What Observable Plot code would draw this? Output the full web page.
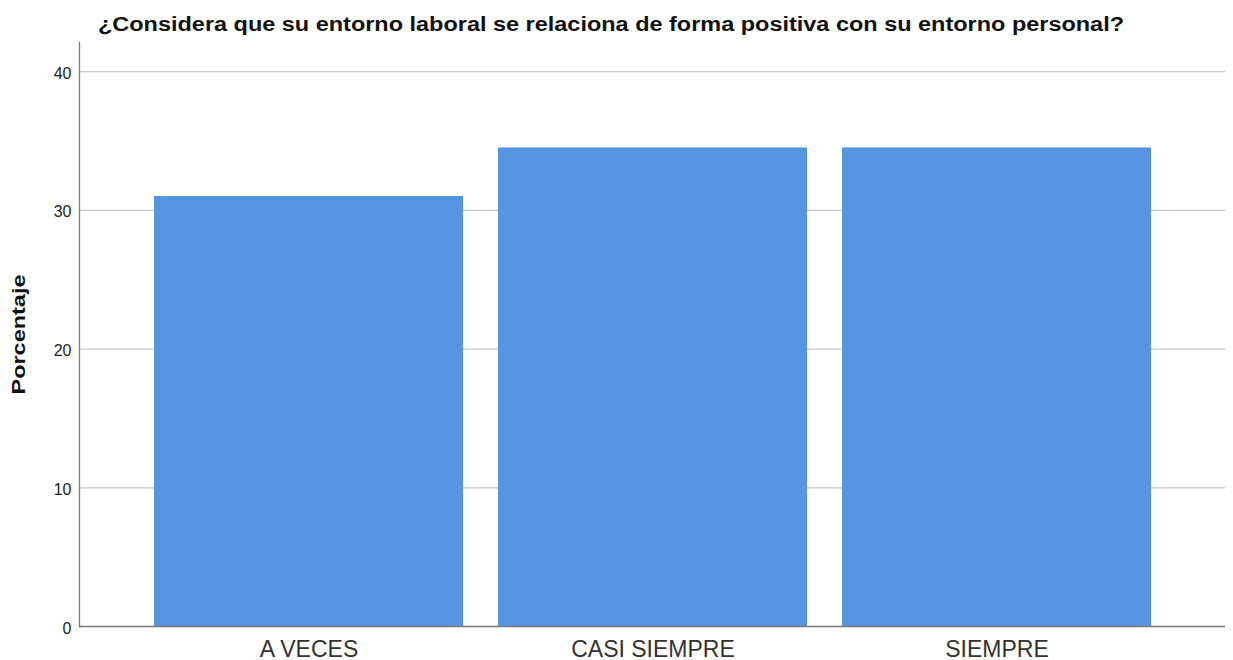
<!DOCTYPE html>
<html>
<head>
<meta charset="utf-8">
<script src="https://cdn.jsdelivr.net/npm/d3@7"></script>
<script src="https://cdn.jsdelivr.net/npm/@observablehq/plot@0.6"></script>
<style>
  body { margin: 0; background: #fff; font-family: "Liberation Sans", Arial, sans-serif; }
  svg { display: block; }
</style>
</head>
<body>
<svg id="title" width="1233" height="42" style="overflow:visible">
  <text x="98" y="31" font-family="Liberation Sans, Arial, sans-serif" font-size="20" font-weight="bold" fill="#111"
        textLength="1026" lengthAdjust="spacingAndGlyphs">¿Considera que su entorno laboral se relaciona de forma positiva con su entorno personal?</text>
</svg>
<div id="chart"></div>
<script>
const categories = ["A VECES", "CASI SIEMPRE", "SIEMPRE"];
const percentages = [31.0, 34.5, 34.5];
const yTicks = [0, 10, 20, 30, 40];
const yLabel = "Porcentaje";

const data = categories.map((c, i) => ({ cat: c, pct: percentages[i] }));

const chart = Plot.plot({
  width: 1233,
  height: 618,
  marginTop: 0,
  marginBottom: 34,
  marginLeft: 79,
  marginRight: 8,
  style: { fontFamily: "Liberation Sans, Arial, sans-serif", background: "#fff", overflow: "visible" },
  x: { domain: categories, paddingInner: 0.103, paddingOuter: 0.215, label: null },
  y: { domain: [0, 42.1], label: null },
  marks: [
    Plot.gridY(yTicks.filter(d => d > 0), { stroke: "#c8c8c8", strokeOpacity: 1, strokeWidth: 1.2 }),
    Plot.barY(data, { x: "cat", y: "pct", fill: "#5595e2" }),
    Plot.frame({ anchor: "left", stroke: "#7a7a7a", strokeWidth: 1.3 }),
    Plot.ruleY([0], { stroke: "#7a7a7a", strokeWidth: 1.3 }),
    Plot.axisY(yTicks, { tickSize: 0, tickPadding: 8, fontSize: 16, dy: 2, fill: "#222", label: null }),
    Plot.axisX({ tickSize: 0, tickPadding: 14, fontSize: 23, fill: "#333", label: null }),
    Plot.text([yLabel], { frameAnchor: "left", dx: -60, rotate: -90, textAnchor: "middle", fontSize: 18, fontWeight: "bold", fill: "#111", className: "ylab" })
  ]
});
document.getElementById("chart").appendChild(chart);
chart.querySelectorAll(".ylab text").forEach(t => {
  t.setAttribute("textLength", "120");
  t.setAttribute("lengthAdjust", "spacingAndGlyphs");
});
</script>
</body>
</html>
